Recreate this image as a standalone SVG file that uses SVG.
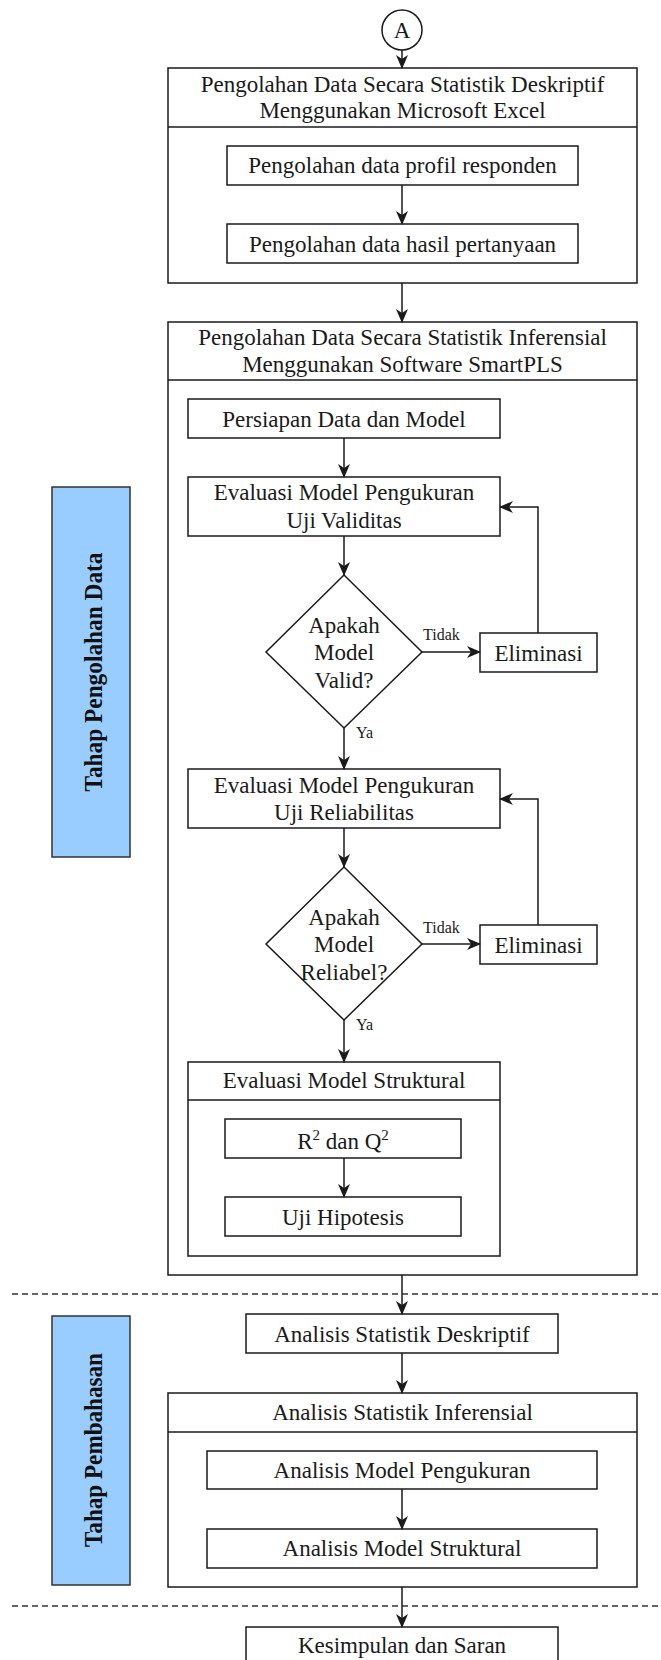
<svg xmlns="http://www.w3.org/2000/svg" width="661" height="1660" viewBox="0 0 661 1660">
  <style>
    .box { fill: #ffffff; stroke: #1a1a1a; stroke-width: 1.5; }
    .phase { fill: #99ccff; stroke: #333333; stroke-width: 1.5; }
    .ln { fill: none; stroke: #1a1a1a; stroke-width: 1.5; }
    .dash { fill: none; stroke: #333333; stroke-width: 1.3; stroke-dasharray: 6 4; }
    .t { font-family: "Liberation Serif", "Times New Roman", serif; font-size: 23px; fill: #1a1a1a; text-anchor: middle; }
    .lbl { font-family: "Liberation Serif", "Times New Roman", serif; font-size: 16px; fill: #1a1a1a; }
    .vt { font-family: "Liberation Serif", "Times New Roman", serif; font-size: 25px; font-weight: bold; fill: #111111; text-anchor: middle; }
    .sup { font-size: 15px; }
  </style>
  <defs>
    <marker id="arrow" viewBox="0 0 14 12" refX="13" refY="6" markerWidth="14" markerHeight="12" markerUnits="userSpaceOnUse" orient="auto">
      <path d="M0,0 L14,6 L0,12 L4,6 Z" fill="#1a1a1a"/>
    </marker>
  </defs>

  <rect width="661" height="1660" fill="#ffffff"/>

  <!-- phase separators -->
  <line class="dash" x1="12" y1="1294" x2="661" y2="1294"/>
  <line class="dash" x1="12" y1="1606" x2="661" y2="1606"/>

  <!-- phase labels -->
  <g id="phase-pengolahan">
    <rect class="phase" x="52" y="487" width="78" height="370"/>
    <text class="vt" transform="translate(101.5,672) rotate(-90)" textLength="239" lengthAdjust="spacingAndGlyphs">Tahap Pengolahan Data</text>
  </g>
  <g id="phase-pembahasan">
    <rect class="phase" x="52" y="1316" width="78" height="269"/>
    <text class="vt" transform="translate(101.5,1450) rotate(-90)" textLength="194" lengthAdjust="spacingAndGlyphs">Tahap Pembahasan</text>
  </g>

  <!-- connector A -->
  <g id="connector-a">
    <circle class="box" cx="402" cy="30" r="20"/>
    <text class="t" x="402" y="38">A</text>
  </g>

  <!-- descriptive statistics with Excel -->
  <g id="excel-group">
    <rect class="box" x="168" y="68" width="469" height="215"/>
    <line class="ln" x1="168" y1="127" x2="637" y2="127"/>
    <text class="t" x="402.5" y="92">Pengolahan Data Secara Statistik Deskriptif</text>
    <text class="t" x="402.5" y="118">Menggunakan Microsoft Excel</text>
  </g>
  <g id="profil">
    <rect class="box" x="227" y="146" width="351" height="39"/>
    <text class="t" x="402.5" y="173">Pengolahan data profil responden</text>
  </g>
  <g id="pertanyaan">
    <rect class="box" x="227" y="224" width="351" height="39"/>
    <text class="t" x="402.5" y="252">Pengolahan data hasil pertanyaan</text>
  </g>

  <!-- inferential statistics with SmartPLS -->
  <g id="smartpls-group">
    <rect class="box" x="168" y="322" width="469" height="953"/>
    <line class="ln" x1="168" y1="380" x2="637" y2="380"/>
    <text class="t" x="402.5" y="345">Pengolahan Data Secara Statistik Inferensial</text>
    <text class="t" x="402.5" y="372">Menggunakan Software SmartPLS</text>
  </g>
  <g id="persiapan">
    <rect class="box" x="188" y="399" width="312" height="39"/>
    <text class="t" x="344" y="427">Persiapan Data dan Model</text>
  </g>
  <g id="validitas">
    <rect class="box" x="188" y="477" width="312" height="59"/>
    <text class="t" x="344" y="500">Evaluasi Model Pengukuran</text>
    <text class="t" x="344" y="528">Uji Validitas</text>
  </g>
  <g id="cek-valid">
    <polygon class="box" points="344,575 422,652 344,728 266,652"/>
    <text class="t" x="344" y="633">Apakah</text>
    <text class="t" x="344" y="660">Model</text>
    <text class="t" x="344" y="688">Valid?</text>
  </g>
  <g id="eliminasi-1">
    <rect class="box" x="480" y="633" width="117" height="39"/>
    <text class="t" x="538.5" y="661">Eliminasi</text>
  </g>
  <g id="reliabilitas">
    <rect class="box" x="188" y="769" width="312" height="59"/>
    <text class="t" x="344" y="793">Evaluasi Model Pengukuran</text>
    <text class="t" x="344" y="820">Uji Reliabilitas</text>
  </g>
  <g id="cek-reliabel">
    <polygon class="box" points="344,867 422,944 344,1020 266,944"/>
    <text class="t" x="344" y="925">Apakah</text>
    <text class="t" x="344" y="952">Model</text>
    <text class="t" x="344" y="980">Reliabel?</text>
  </g>
  <g id="eliminasi-2">
    <rect class="box" x="480" y="925" width="117" height="39"/>
    <text class="t" x="538.5" y="953">Eliminasi</text>
  </g>
  <g id="struktural-group">
    <rect class="box" x="188" y="1062" width="312" height="194"/>
    <line class="ln" x1="188" y1="1100" x2="500" y2="1100"/>
    <text class="t" x="344" y="1088">Evaluasi Model Struktural</text>
  </g>
  <g id="r2-q2">
    <rect class="box" x="225" y="1119" width="236" height="39"/>
    <text class="t" x="343" y="1149">R<tspan class="sup" dy="-9">2</tspan><tspan dy="9"> dan Q</tspan><tspan class="sup" dy="-9">2</tspan></text>
  </g>
  <g id="hipotesis">
    <rect class="box" x="225" y="1197" width="236" height="39"/>
    <text class="t" x="343" y="1225">Uji Hipotesis</text>
  </g>

  <!-- discussion phase -->
  <g id="analisis-deskriptif">
    <rect class="box" x="246" y="1314" width="312" height="39"/>
    <text class="t" x="402" y="1342">Analisis Statistik Deskriptif</text>
  </g>
  <g id="analisis-inferensial-group">
    <rect class="box" x="168" y="1393" width="469" height="194"/>
    <line class="ln" x1="168" y1="1432" x2="637" y2="1432"/>
    <text class="t" x="402.5" y="1420">Analisis Statistik Inferensial</text>
  </g>
  <g id="analisis-pengukuran">
    <rect class="box" x="207" y="1451" width="390" height="38"/>
    <text class="t" x="402" y="1478">Analisis Model Pengukuran</text>
  </g>
  <g id="analisis-struktural">
    <rect class="box" x="207" y="1529" width="390" height="39"/>
    <text class="t" x="402" y="1556">Analisis Model Struktural</text>
  </g>
  <g id="kesimpulan">
    <rect class="box" x="246" y="1627" width="312" height="39"/>
    <text class="t" x="402" y="1653">Kesimpulan dan Saran</text>
  </g>

  <!-- connectors -->
  <g id="connectors">
    <line class="ln" x1="402" y1="50" x2="402" y2="68" marker-end="url(#arrow)"/>
    <line class="ln" x1="402" y1="185" x2="402" y2="224" marker-end="url(#arrow)"/>
    <line class="ln" x1="402" y1="283" x2="402" y2="322" marker-end="url(#arrow)"/>
    <line class="ln" x1="344" y1="438" x2="344" y2="477" marker-end="url(#arrow)"/>
    <line class="ln" x1="344" y1="536" x2="344" y2="575" marker-end="url(#arrow)"/>
    <line class="ln" x1="422" y1="652" x2="480" y2="652" marker-end="url(#arrow)"/>
    <polyline class="ln" points="538,633 538,507 500,507" marker-end="url(#arrow)"/>
    <line class="ln" x1="344" y1="728" x2="344" y2="769" marker-end="url(#arrow)"/>
    <line class="ln" x1="344" y1="828" x2="344" y2="867" marker-end="url(#arrow)"/>
    <line class="ln" x1="422" y1="944" x2="480" y2="944" marker-end="url(#arrow)"/>
    <polyline class="ln" points="538,925 538,799 500,799" marker-end="url(#arrow)"/>
    <line class="ln" x1="344" y1="1020" x2="344" y2="1062" marker-end="url(#arrow)"/>
    <line class="ln" x1="344" y1="1158" x2="344" y2="1197" marker-end="url(#arrow)"/>
    <line class="ln" x1="402" y1="1275" x2="402" y2="1314" marker-end="url(#arrow)"/>
    <line class="ln" x1="402" y1="1353" x2="402" y2="1393" marker-end="url(#arrow)"/>
    <line class="ln" x1="402" y1="1489" x2="402" y2="1529" marker-end="url(#arrow)"/>
    <line class="ln" x1="402" y1="1587" x2="402" y2="1627" marker-end="url(#arrow)"/>
    <text class="lbl" x="423" y="640">Tidak</text>
    <text class="lbl" x="356" y="738">Ya</text>
    <text class="lbl" x="423" y="933">Tidak</text>
    <text class="lbl" x="356" y="1030">Ya</text>
  </g>
</svg>
